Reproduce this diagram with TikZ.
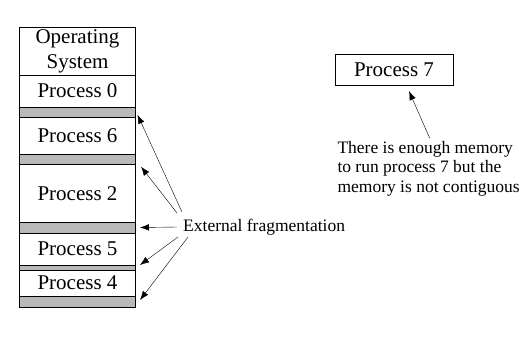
\documentclass[tikz,border=0pt]{standalone}
\usepackage{fontspec}
\setmainfont{Liberation Serif}
\usetikzlibrary{positioning,arrows.meta}

\begin{document}
\begin{tikzpicture}[x=1pt, y=1pt,
		node distance=0pt,
		every node/.style={font=\fontsize{21}{24}\selectfont},
		block/.style={draw, rectangle, minimum width=116pt, inner sep=0pt, outer sep=0pt, align=center},
		hole/.style={block, fill=gray!55},
		note/.style={font=\fontsize{17.5}{19.5}\selectfont, inner sep=0pt},
		arrow/.style={-{Latex[length=9pt,width=6.5pt]}, thin}
		]
		\useasboundingbox (0,0) rectangle (525,-341);
		
		% memory column
		\node[block, minimum height=48pt, font=\fontsize{21}{25}\selectfont] (os) at (77.5,-51) {Operating\\System};
		\node[block, minimum height=31.7pt, below=of os] (p0) {Process 0};
		\node[hole, minimum height=10pt, below=of p0] (h1) {};
		\node[block, minimum height=37.6pt, below=of h1] (p6) {Process 6};
		\node[hole, minimum height=10pt, below=of p6] (h2) {};
		\node[block, minimum height=58pt, below=of h2] (p2) {Process 2};
		\node[hole, minimum height=10.4pt, below=of p2] (h3) {};
		\node[block, minimum height=32.3pt, below=of h3] (p5) {Process 5};
		\node[hole, minimum height=5pt, below=of p5] (h4) {};
		\node[block, minimum height=26pt, below=of h4] (p4) {Process 4};
		\node[hole, minimum height=10.7pt, below=of p4] (h5) {};
		
		% waiting process
		\node[block, minimum width=117.7pt, minimum height=30.7pt] (p7) at (394,-69.7) {Process 7};
		\node[note, align=left, anchor=north west] (enough) at (337.3,-141) {There is enough memory\\to run process 7 but the\\memory is not contiguous};
		\node[note, anchor=west] (frag) at (183,-227) {External fragmentation};
		
		\draw[arrow] ([xshift=-1pt,yshift=15pt]frag.west) -- ([xshift=2pt,yshift=2pt]h1.south east);
		\draw[arrow] ([xshift=-6pt,yshift=14pt]frag.west) -- ([xshift=5.5pt,yshift=-2.4pt]h2.south east);
		\draw[arrow] ([xshift=-6pt]frag.west) -- ([xshift=4.5pt]h3.east);
		\draw[arrow] ([xshift=-5pt,yshift=-10pt]frag.west) -- ([xshift=4.5pt,yshift=2.5pt]h4.east);
		\draw[arrow] ([xshift=5pt,yshift=-10pt]frag.west) -- ([xshift=4.5pt,yshift=1.3pt]h5.east);
		\draw[arrow] ([xshift=1pt,yshift=3pt]enough.north) -- ([xshift=15pt,yshift=-6pt]p7.south);
		
	\end{tikzpicture}
\end{document}
